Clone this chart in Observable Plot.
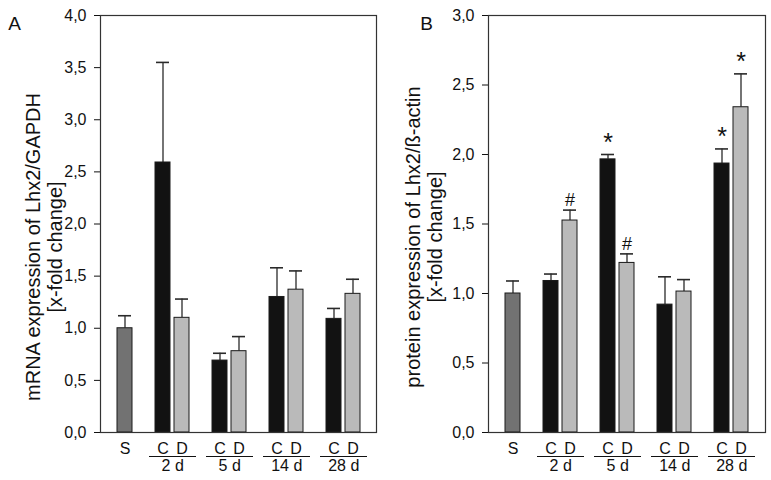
<!DOCTYPE html>
<html>
<head>
<meta charset="utf-8">
<script src="https://cdn.jsdelivr.net/npm/d3@7"></script>
<script src="https://cdn.jsdelivr.net/npm/@observablehq/plot@0.6"></script>
<style>
  body { margin: 0; background: #fff; }
  #wrap { display: flex; width: 771px; height: 480px; }
</style>
</head>
<body>
<div id="wrap"></div>
<script>
// ---- data ----
const groups = ["2 d", "5 d", "14 d", "28 d"];
const conditions = ["C", "D"];

// Panel A: mRNA expression of Lhx2/GAPDH
const mrnaSham = 1.00, mrnaShamErr = 0.12;
const mrnaC    = [2.59, 0.69, 1.30, 1.09];
const mrnaCErr = [0.96, 0.07, 0.28, 0.10];
const mrnaD    = [1.10, 0.78, 1.37, 1.33];
const mrnaDErr = [0.18, 0.14, 0.18, 0.14];

// Panel B: protein expression of Lhx2/ß-actin
const protSham = 1.00, protShamErr = 0.09;
const protC    = [1.09, 1.965, 0.92, 1.935];
const protCErr = [0.05, 0.035, 0.20, 0.105];
const protD    = [1.525, 1.22, 1.014, 2.34];
const protDErr = [0.075, 0.065, 0.086, 0.24];
const protSigC = ["", "*", "", "*"];
const protSigD = ["#", "#", "", "*"];

const yLabelA = "mRNA expression of Lhx2/GAPDH\n[x-fold change]";
const yLabelB = "protein expression of Lhx2/ß-actin\n[x-fold change]";

// ---- build ----
const FONT = "'Liberation Sans', Arial, Helvetica, sans-serif";
const slots = ["S"];
groups.forEach(g => { slots.push("gap " + g); conditions.forEach(c => slots.push(g + " " + c)); });

function rowsFor(sham, shamErr, cv, ce, dv, de, sc, sd) {
  const rows = [{slot: "S", label: "S", type: "S", value: sham, err: shamErr, sig: ""}];
  groups.forEach((g, i) => {
    rows.push({slot: g + " C", label: "C", type: "C", group: g, value: cv[i], err: ce[i], sig: sc ? sc[i] : ""});
    rows.push({slot: g + " D", label: "D", type: "D", group: g, value: dv[i], err: de[i], sig: sd ? sd[i] : ""});
  });
  return rows;
}
const fmt = d => d.toFixed(1).replace(".", ",");
const fills = {S: "#727272", C: "#121212", D: "#bababa"};

function panel({rows, yMax, yLabel, letter, width, marginRight, titleDx, titleDy, letterDx}) {
  const gRows = groups.map(g => ({group: g}));
  const marks = [
    Plot.ruleX(rows, {x: "slot", y1: "value", y2: d => d.value + d.err, stroke: "#2a2a2a", strokeWidth: 1.3}),
    Plot.tickY(rows, {x: "slot", y: d => d.value + d.err, stroke: "#2a2a2a", strokeWidth: 1.6, insetLeft: 1, insetRight: 1}),
  ];
  ["S", "C", "D"].forEach(t => {
    marks.push(Plot.barY(rows.filter(r => r.type === t), {x: "slot", y: "value", fill: fills[t], stroke: "#1a1a1a", strokeWidth: 1}));
  });
  marks.push(
    Plot.frame({stroke: "#333", strokeWidth: 1.2}),
    // significance markers
    Plot.text(rows.filter(r => r.sig), {x: "slot", y: d => d.value + d.err, text: "sig", lineAnchor: "bottom", dy: -4,
      fontSize: d => d.sig === "*" ? 25 : 18, fontWeight: d => d.sig === "*" ? "bold" : "normal", fill: "#111"}),
    // category labels
    Plot.text(rows, {x: "slot", text: "label", frameAnchor: "bottom", lineAnchor: "middle", dy: 16.5, fontSize: 16, fill: "#111"}),
    // group underlines
    Plot.tickY(gRows, {x: d => d.group + " C", y: () => 0, dy: 24, insetLeft: -6, insetRight: -3, stroke: "#111", strokeWidth: 1}),
    Plot.tickY(gRows, {x: d => d.group + " D", y: () => 0, dy: 24, insetLeft: -3, insetRight: -7, stroke: "#111", strokeWidth: 1}),
    Plot.text(gRows, {x: d => d.group + " C", text: "group", frameAnchor: "bottom", lineAnchor: "middle", dx: 9.7, dy: 33.5, fontSize: 16, fill: "#111"}),
    // axis title
    Plot.text([yLabel], {text: d => d, frameAnchor: "left", textAnchor: "middle", rotate: -90, lineAnchor: "middle", lineHeight: 1.1,
      dx: titleDx, dy: titleDy, fontSize: 20, fill: "#111"}),
    // panel letter
    Plot.text([letter], {text: d => d, frameAnchor: "top-left", lineAnchor: "middle", textAnchor: "middle",
      dx: letterDx, dy: 8, fontSize: 19, fill: "#111"})
  );
  return Plot.plot({
    width, height: 480,
    marginLeft: 100, marginRight, marginTop: 15, marginBottom: 48,
    style: {fontFamily: FONT, fontSize: "16px", color: "#111", background: "#fff"},
    x: {domain: slots, paddingInner: 0.23, paddingOuter: 0.75, axis: null},
    y: {domain: [0, yMax], ticks: d3.range(0, yMax + 0.001, 0.5), tickFormat: fmt, tickSize: 6, tickPadding: 8, label: null, line: false},
    marks
  });
}

const wrap = document.getElementById("wrap");
wrap.append(panel({
  rows: rowsFor(mrnaSham, mrnaShamErr, mrnaC, mrnaCErr, mrnaD, mrnaDErr),
  yMax: 4, yLabel: yLabelA, letter: "A", width: 388, marginRight: 12, titleDx: -57, titleDy: 23, letterDx: -86
}));
wrap.append(panel({
  rows: rowsFor(protSham, protShamErr, protC, protCErr, protD, protDErr, protSigC, protSigD),
  yMax: 3, yLabel: yLabelB, letter: "B", width: 383, marginRight: 6, titleDx: -65, titleDy: 13, letterDx: -62
}));
</script>
</body>
</html>
